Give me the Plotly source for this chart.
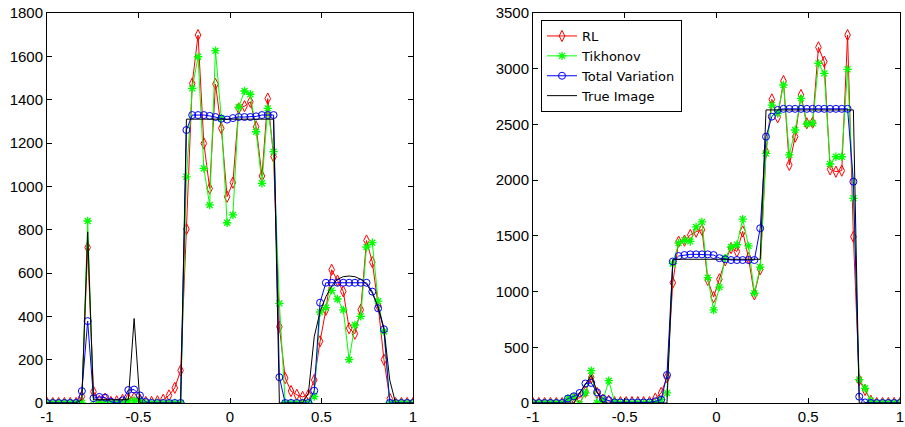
import numpy as np
import plotly.graph_objects as go

N = 64
x = np.linspace(-1, 1, N)

# ---------------- Left panel ----------------
true_L = [0, 0, 0, 0, 0, 0, 15, 790, 15, 15, 15, 15, 15, 15, 15, 390,
          0, 0, 0, 0, 0, 0, 0, 0,
          1310, 1310, 1310, 1310, 1310, 1310, 1310, 1310, 1310, 1310, 1310, 1310, 1310, 1310, 1310, 1310,
          0, 0, 0, 0, 0, 46, 306, 421, 490, 540, 571, 583, 586, 583, 571, 549, 506, 444, 345, 106,
          0, 0, 0, 0]
rl_L = [0, 0, 0, 0, 0, 0, 30, 718, 52, 10, 20, 5, 8, 15, 20, 25,
        15, 5, 5, 8, 15, 35, 70, 150,
        803, 1475, 1698, 1198, 990, 1472, 1268, 952, 1017, 1360, 1370, 1390, 1275, 1048, 1405, 1137,
        352, 115, 55, 38, 28, 38, 106, 285, 430, 615, 565, 515, 345, 320, 430, 750, 650, 450, 200, 20,
        0, 0, 0, 0]
tik_L = [0, 0, 0, 0, 0, 0, 0, 840, -10, 0, 0, 0, 0, 0, 10, 12,
         8, 0, 0, 0, 0, 0, 0, 0,
         1044, 1452, 1598, 1083, 914, 1626, 1315, 832, 868, 1365, 1440, 1425, 1252, 1014, 1360, 1160,
         460, 0, 0, 0, 0, 0, 30, 420, 440, 520, 480, 430, 200, 360, 400, 720, 740, 470, 330, 0,
         0, 0, 0, 0]
tv_L = [0, 0, 0, 0, 0, 0, 55, 378, 22, 28, 25, 6, 0, 12, 60, 62,
        35, 5, 0, 0, 0, 0, 0, 0,
        1260, 1329, 1329, 1329, 1325, 1320, 1312, 1308, 1315, 1320, 1320, 1320, 1323, 1329, 1329, 1329,
        119, 0, 0, 0, 0, 0, 57, 463, 555, 555, 555, 555, 555, 555, 555, 555, 514, 437, 340, 0,
        0, 0, 0, 0]

# ---------------- Right panel ----------------
true_R = [0, 0, 0, 0, 0, 0, 0, 0, 85, 170, 250, 105, 0, 0, 0, 0,
          0, 0, 0, 0, 0, 0, 0, 0,
          1290, 1290, 1290, 1290, 1290, 1290, 1290, 1290, 1290, 1290, 1290, 1290, 1290, 1290, 1290, 1290,
          2630, 2630, 2630, 2630, 2630, 2630, 2630, 2630, 2630, 2630, 2630, 2630, 2630, 2630, 2630, 2630,
          0, 0, 0, 0, 0, 0, 0, 0]
rl_R = [0, 0, 0, 0, 0, 0, 15, 40, 45, 100, 230, 90, 30, 20, 8, 8,
        8, 8, 8, 8, 8, 40, 90, 230,
        1080, 1448, 1457, 1508, 1537, 1555, 1104, 950, 1110, 1280, 1390, 1360, 1540, 1300, 975, 1200,
        2255, 2725, 2564, 2890, 2136, 2390, 2764, 2510, 2516, 3192, 3063, 2097, 2076, 2085, 3302, 1492,
        206, 117, 20, 0, 0, 0, 0, 0]
tik_R = [0, 0, 0, 0, 0, 0, 40, 55, -10, 90, 290, 0, 20, 200, 10, 0,
         0, 0, 0, 0, 0, 0, 30, 90,
         1250, 1435, 1460, 1450, 1580, 1625, 1125, 835, 1040, 1300, 1400, 1420, 1650, 1410, 985, 1220,
         2240, 2674, 2600, 2854, 2226, 2450, 2734, 2504, 2510, 3048, 2958, 2145, 2210, 2210, 2994, 1837,
         210, 132, 20, 0, 0, 0, 0, 0]
tv_R = [0, 0, 0, 0, 0, 0, 40, 60, 90, 175, 180, 95, 40, 25, 5, 5,
        5, 5, 5, 5, 5, 15, 30, 251,
        1270, 1319, 1328, 1334, 1334, 1334, 1334, 1328, 1300, 1290, 1283, 1283, 1283, 1283, 1283, 1568,
        2390, 2570, 2630, 2640, 2640, 2640, 2640, 2640, 2640, 2640, 2640, 2640, 2640, 2640, 2640, 1986,
        57, 5, 0, 0, 0, 0, 0, 0]

names = ["RL", "Tikhonov", "Total Variation", "True Image"]
x_ticks = [-1, -0.5, 0, 0.5, 1]
x_ticktext = ["-1", "-0.5", "0", "0.5", "1"]
yL_ticks = list(range(0, 1801, 200))
yR_ticks = list(range(0, 3501, 500))

FONT = "Liberation Sans, Arial, sans-serif"
LFONT = "DejaVu Sans, sans-serif"
fig = go.Figure()


def add_panel(xa, ya, rl, tik, tv, tr, show):
    fig.add_trace(go.Scatter(x=x, y=rl, name=names[0], mode="lines+markers",
                             line=dict(color="#ff0000", width=1),
                             marker=dict(symbol="diamond-tall-open", size=8,
                                         color="#ff0000", line=dict(width=1, color="#ff0000")),
                             xaxis=xa, yaxis=ya, showlegend=show, cliponaxis=True))
    fig.add_trace(go.Scatter(x=x, y=tik, name=names[1], mode="lines+markers",
                             line=dict(color="#00ff00", width=1),
                             marker=dict(symbol="asterisk-open", size=7,
                                         color="#00ff00", line=dict(width=1.3, color="#00ff00")),
                             xaxis=xa, yaxis=ya, showlegend=show, cliponaxis=True))
    fig.add_trace(go.Scatter(x=x, y=tv, name=names[2], mode="lines+markers",
                             line=dict(color="#0000ff", width=1),
                             marker=dict(symbol="circle-open", size=7,
                                         color="#0000ff", line=dict(width=1, color="#0000ff")),
                             xaxis=xa, yaxis=ya, showlegend=show, cliponaxis=True))
    fig.add_trace(go.Scatter(x=x, y=tr, name=names[3], mode="lines",
                             line=dict(color="#000000", width=1),
                             xaxis=xa, yaxis=ya, showlegend=show, cliponaxis=True))


add_panel("x", "y", rl_L, tik_L, tv_L, true_L, False)
add_panel("x2", "y2", rl_R, tik_R, tv_R, true_R, True)

W, H = 905, 427
axis_common = dict(showline=True, linecolor="black", linewidth=1, mirror="ticks",
                   ticks="inside", ticklen=5, tickcolor="black", tickwidth=1,
                   showgrid=False, zeroline=False, automargin=False,
                   tickfont=dict(family=FONT, size=15, color="black"))

yb = 1 - 403 / H
yt = 1 - 13 / H
fig.update_layout(
    width=W, height=H,
    margin=dict(l=0, r=0, t=0, b=0, autoexpand=False),
    paper_bgcolor="white", plot_bgcolor="white",
    xaxis=dict(domain=[47 / W, 413 / W], range=[-1, 1], tickvals=x_ticks,
               ticktext=x_ticktext, anchor="y", **axis_common),
    yaxis=dict(domain=[yb, yt], range=[0, 1800], tickvals=yL_ticks,
               ticktext=[str(v) for v in yL_ticks], anchor="x", **axis_common),
    xaxis2=dict(domain=[533 / W, 900 / W], range=[-1, 1], tickvals=x_ticks,
                ticktext=x_ticktext, anchor="y2", **axis_common),
    yaxis2=dict(domain=[yb, yt], range=[0, 3500], tickvals=yR_ticks,
                ticktext=[str(v) for v in yR_ticks], anchor="x2", **axis_common),
    legend=dict(x=541 / W, y=1 - 20 / H, xanchor="left", yanchor="top",
                bgcolor="white", bordercolor="black", borderwidth=1,
                font=dict(family=LFONT, size=13, color="black"),
                tracegroupgap=0),
    showlegend=True,
)

fig.write_html("out.html", config={"displayModeBar": False},
               post_script="document.body.style.margin='0';document.body.style.padding='0';"
                           "document.body.style.overflow='hidden';")
